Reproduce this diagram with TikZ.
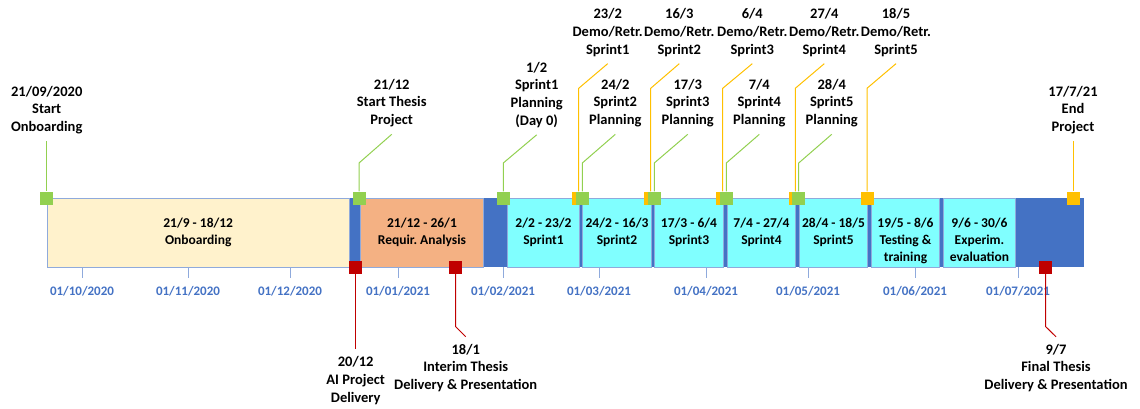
\documentclass[tikz,border=0pt]{standalone}
\usepackage{fontspec}
\setmainfont{Carlito}
\definecolor{barblue}{HTML}{4472C4}
\definecolor{boxline}{HTML}{8FAADC}
\definecolor{onbfill}{HTML}{FFF2CC}
\definecolor{reqfill}{HTML}{F4B183}
\definecolor{sprfill}{HTML}{80FFFF}
\definecolor{mgreen}{HTML}{92D050}
\definecolor{morange}{HTML}{FFC000}
\definecolor{mred}{HTML}{C00000}

\begin{document}
\frenchspacing
\begin{tikzpicture}[x=1pt, y=-1pt,
  txt/.style={font=\fontsize{14.5}{17.7}\selectfont\bfseries, align=center, outer sep=4pt},
  phtxt/.style={font=\fontsize{13.5}{17.2}\selectfont\bfseries, align=center, anchor=north, yshift=-16.5pt},
  datetxt/.style={font=\fontsize{13}{15}\selectfont\bfseries, text=barblue},
  phase/.style={draw=boxline, line width=1pt, minimum height=69pt, inner sep=0pt, anchor=north west},
  tick/.style={draw=boxline, line width=0.8pt},
  sq/.style={minimum size=13pt, inner sep=0pt},
  gsq/.style={sq, fill=mgreen},
  osq/.style={sq, fill=morange},
  rsq/.style={sq, fill=mred},
  gline/.style={draw=mgreen, line width=1pt},
  oline/.style={draw=morange, line width=1pt},
  rline/.style={draw=mred, line width=1pt}]

  \newcommand\Yt{198}
  \newcommand\Yb{267}

  \useasboundingbox (0,0) rectangle (1140,409);

  %% time bar and phases
  \node[fill=barblue, minimum width=737pt, minimum height=69pt, inner sep=0pt, anchor=north west] (bar) at (347,\Yt) {};
  \node[phase, fill=onbfill, minimum width=302pt] (ph1) at (46.7,\Yt) {};
  \node[phase, fill=reqfill, minimum width=123pt] (ph2) at (360,\Yt) {};
  \node[phase, fill=sprfill, minimum width=72pt] (ph3) at (507,\Yt) {};
  \node[phase, fill=sprfill, minimum width=69pt] (ph4) at (582,\Yt) {};
  \node[phase, fill=sprfill, minimum width=69pt] (ph5) at (654,\Yt) {};
  \node[phase, fill=sprfill, minimum width=68pt] (ph6) at (727,\Yt) {};
  \node[phase, fill=sprfill, minimum width=68pt] (ph7) at (799,\Yt) {};
  \node[phase, fill=sprfill, minimum width=68pt] (ph8) at (871,\Yt) {};
  \node[phase, fill=sprfill, minimum width=72pt] (ph9) at (943,\Yt) {};

  \node[phtxt] (t1) at (ph1.north) {21/9 - 18/12\\Onboarding};
  \node[phtxt] (t2) at (ph2.north) {21/12 - 26/1\\Requir. Analysis};
  \node[phtxt] (t3) at (ph3.north) {2/2 - 23/2\\Sprint1};
  \node[phtxt] (t4) at (ph4.north) {24/2 - 16/3\\Sprint2};
  \node[phtxt] (t5) at (ph5.north) {17/3 - 6/4\\Sprint3};
  \node[phtxt] (t6) at (ph6.north) {7/4 - 27/4\\Sprint4};
  \node[phtxt] (t7) at (ph7.north) {28/4 - 18/5\\Sprint5};
  \node[phtxt] (t8) at (ph8.north) {19/5 - 8/6\\Testing \&\\training};
  \node[phtxt] (t9) at (ph9.north) {9/6 - 30/6\\Experim.\\evaluation};

  %% month ticks
  \foreach \x/\m/\yr in {82/10/2020, 188/11/2020, 290/12/2020, 398/01/2021, 503/02/2021,
                         599/03/2021, 706/04/2021, 808/05/2021, 915/06/2021, 1018/07/2021}{
    \draw[tick] (\x,\Yb) -- (\x,278);
    \node[datetxt] (d\m) at (\x,291) {01/\m/\yr};
  }

  %% milestones above
  \node[txt] (onbS) at (46.7,110) {21/09/2020\\Start\\Onboarding};
  \node[txt] (thS) at (391.7,103) {21/12\\Start Thesis\\Project};
  \node[txt] (pl1) at (536.7,94.7) {1/2\\Sprint1\\Planning\\(Day 0)};
  \node[txt] (dm1) at (607.7,32.4) {23/2\\Demo/Retr.\\Sprint1};
  \node[txt] (pl2) at (615.3,103) {24/2\\Sprint2\\Planning};
  \node[txt] (dm2) at (679.3,32.4) {16/3\\Demo/Retr.\\Sprint2};
  \node[txt] (pl3) at (687.7,103) {17/3\\Sprint3\\Planning};
  \node[txt] (dm3) at (752.3,32.4) {6/4\\Demo/Retr.\\Sprint3};
  \node[txt] (pl4) at (759.3,103) {7/4\\Sprint4\\Planning};
  \node[txt] (dm4) at (824.3,32.4) {27/4\\Demo/Retr.\\Sprint4};
  \node[txt] (pl5) at (831.7,103) {28/4\\Sprint5\\Planning};
  \node[txt] (dm5) at (896,32.4) {18/5\\Demo/Retr.\\Sprint5};
  \node[txt] (endP) at (1073,110) {17/7/21\\End\\Project};

  %% deliveries below
  \node[txt] (aiD) at (355.7,380.5) {20/12\\AI Project\\Delivery};
  \node[txt] (itD) at (465.7,368) {18/1\\Interim Thesis\\Delivery \& Presentation};
  \node[txt] (fnD) at (1056,368) {9/7\\Final Thesis\\Delivery \& Presentation};

  %% markers
  \node[gsq] (mOnb) at (46.7,\Yt) {};
  \node[gsq] (mTh) at (359,\Yt) {};
  \node[gsq] (mPl1) at (503.3,\Yt) {};
  \node[osq] (mDm1) at (578.7,\Yt) {};
  \node[gsq] (mPl2) at (582.3,\Yt) {};
  \node[osq] (mDm2) at (650.7,\Yt) {};
  \node[gsq] (mPl3) at (654.3,\Yt) {};
  \node[osq] (mDm3) at (722.7,\Yt) {};
  \node[gsq] (mPl4) at (726.3,\Yt) {};
  \node[osq] (mDm4) at (795.3,\Yt) {};
  \node[gsq] (mPl5) at (798.7,\Yt) {};
  \node[osq] (mDm5) at (867,\Yt) {};
  \node[osq] (mEnd) at (1073,\Yt) {};
  \node[rsq] (mAi) at (355.7,\Yb) {};
  \node[rsq] (mIt) at (455.7,\Yb) {};
  \node[rsq] (mFn) at (1045.7,\Yb) {};

  %% bends
  \coordinate (kTh) at (359,163);
  \coordinate (kPl1) at (503.3,163);
  \coordinate (kPl2) at (582.3,163);
  \coordinate (kPl3) at (654.3,163);
  \coordinate (kPl4) at (726.3,163);
  \coordinate (kPl5) at (798.7,163);
  \coordinate (kDm1) at (578.7,88.3);
  \coordinate (kDm2) at (650.7,88.3);
  \coordinate (kDm3) at (722.7,88.3);
  \coordinate (kDm4) at (795.3,88.3);
  \coordinate (kDm5) at (867,88.3);
  \coordinate (kIt) at (455.7,326.7);
  \coordinate (kFn) at (1045.7,326.7);

  \draw[gline] (onbS.south) -- (mOnb);
  \draw[gline] (thS.south) -- (kTh) -- (mTh);
  \draw[gline] (pl1.south) -- (kPl1) -- (mPl1);
  \draw[gline] (pl2.south) -- (kPl2) -- (mPl2);
  \draw[gline] (pl3.south) -- (kPl3) -- (mPl3);
  \draw[gline] (pl4.south) -- (kPl4) -- (mPl4);
  \draw[gline] (pl5.south) -- (kPl5) -- (mPl5);
  \draw[oline] (dm1.south) -- (kDm1) -- (mDm1);
  \draw[oline] (dm2.south) -- (kDm2) -- (mDm2);
  \draw[oline] (dm3.south) -- (kDm3) -- (mDm3);
  \draw[oline] (dm4.south) -- (kDm4) -- (mDm4);
  \draw[oline] (dm5.south) -- (kDm5) -- (mDm5);
  \draw[oline] (endP.south) -- (mEnd);
  \draw[rline] (aiD.north) -- (mAi);
  \draw[rline] (itD.north) -- (kIt) -- (mIt);
  \draw[rline] (fnD.north) -- (kFn) -- (mFn);
\end{tikzpicture}
\end{document}
